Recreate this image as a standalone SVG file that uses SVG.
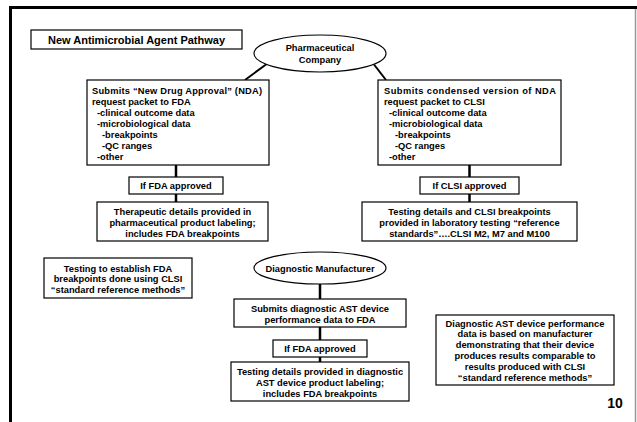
<svg xmlns="http://www.w3.org/2000/svg" width="637" height="422" viewBox="0 0 637 422">
<style>
.bx{fill:#fff;stroke:#000;stroke-width:1.2}
.t{font-family:"Liberation Sans",Arial,sans-serif;font-weight:bold;font-size:9.3px;fill:#000}
.c{text-anchor:middle}
.ln{stroke:#000;stroke-width:2.5;fill:none}
.dg{stroke:#000;stroke-width:2;fill:none}
</style>
<rect x="0" y="0" width="637" height="422" fill="#fff"/>
<g id="frame">
<line x1="9" y1="7.5" x2="637" y2="7.5" stroke="#000" stroke-width="3"/>
<line x1="10.5" y1="6" x2="10.5" y2="422" stroke="#000" stroke-width="3"/>
<line x1="635.5" y1="9" x2="635.5" y2="422" stroke="#999" stroke-width="1.5"/>
</g>
<g id="connectors">
<line class="dg" x1="266" y1="64.5" x2="245" y2="80"/>
<line class="dg" x1="374" y1="64.5" x2="386" y2="80"/>
<line class="ln" x1="176" y1="165" x2="176" y2="177"/>
<line class="ln" x1="176" y1="194" x2="176" y2="202"/>
<line class="ln" x1="469.5" y1="165" x2="469.5" y2="177"/>
<line class="ln" x1="469.5" y1="194" x2="469.5" y2="202"/>
<line class="ln" x1="320" y1="284" x2="320" y2="299"/>
<line class="ln" x1="320" y1="327" x2="320" y2="340"/>
<line class="ln" x1="320" y1="357" x2="320" y2="362"/>
</g>
<g id="title">
<rect class="bx" x="31" y="30" width="211" height="19"/>
<text class="t c" x="136.5" y="44" style="font-size:11px">New Antimicrobial Agent Pathway</text>
</g>
<g id="pharma">
<ellipse class="bx" cx="320" cy="53.5" rx="66" ry="18.5"/>
<text class="t c" x="320" y="51">Pharmaceutical</text>
<text class="t c" x="320" y="63">Company</text>
</g>
<g id="nda">
<rect class="bx" x="87" y="80" width="182" height="85"/>
<text class="t" x="92" y="93.5" textLength="170" lengthAdjust="spacing">Submits “New Drug Approval” (NDA)</text>
<text class="t" x="92" y="104.5">request packet  to FDA</text>
<text class="t" x="97" y="116">-clinical outcome data</text>
<text class="t" x="97" y="127">-microbiological data</text>
<text class="t" x="102" y="138">-breakpoints</text>
<text class="t" x="102" y="149">-QC ranges</text>
<text class="t" x="97" y="160">-other</text>
</g>
<g id="clsi">
<rect class="bx" x="378" y="80" width="183" height="85"/>
<text class="t" x="384" y="93.5" textLength="172" lengthAdjust="spacing">Submits condensed version of NDA</text>
<text class="t" x="384" y="104.5">request packet to CLSI</text>
<text class="t" x="389" y="116">-clinical outcome data</text>
<text class="t" x="389" y="127">-microbiological data</text>
<text class="t" x="395" y="138">-breakpoints</text>
<text class="t" x="395" y="149">-QC ranges</text>
<text class="t" x="389" y="160">-other</text>
</g>
<g id="fda1">
<rect class="bx" x="129" y="177" width="94" height="17"/>
<text class="t c" x="176" y="188.8">If FDA approved</text>
</g>
<g id="therapeutic">
<rect class="bx" x="97" y="202" width="171" height="39"/>
<text class="t c" x="182.5" y="215">Therapeutic details provided in</text>
<text class="t c" x="182.5" y="226">pharmaceutical product labeling;</text>
<text class="t c" x="182.5" y="237">includes FDA breakpoints</text>
</g>
<g id="clsiok">
<rect class="bx" x="420" y="177" width="99" height="17"/>
<text class="t c" x="469.5" y="188.8">If CLSI approved</text>
</g>
<g id="testing">
<rect class="bx" x="362" y="202" width="215" height="39"/>
<text class="t c" x="469.5" y="215">Testing details and CLSI breakpoints</text>
<text class="t c" x="469.5" y="226">provided in laboratory testing “reference</text>
<text class="t c" x="469.5" y="237">standards”….CLSI M2, M7 and M100</text>
</g>
<g id="establish">
<rect class="bx" x="44" y="258" width="148" height="40"/>
<text class="t c" x="118" y="271.5">Testing to establish FDA</text>
<text class="t c" x="118" y="282.3">breakpoints done using CLSI</text>
<text class="t c" x="118" y="293">“standard reference methods”</text>
</g>
<g id="diag">
<ellipse class="bx" cx="320" cy="268" rx="66" ry="16"/>
<text class="t c" x="320" y="271.5">Diagnostic Manufacturer</text>
</g>
<g id="submitdiag">
<rect class="bx" x="234" y="299" width="172" height="28"/>
<text class="t c" x="320" y="311.5">Submits diagnostic AST device</text>
<text class="t c" x="320" y="322.5">performance data to FDA</text>
</g>
<g id="fda2">
<rect class="bx" x="273" y="340" width="94" height="17"/>
<text class="t c" x="320" y="351.8">If FDA approved</text>
</g>
<g id="diaglabel">
<rect class="bx" x="231" y="362" width="178" height="39"/>
<text class="t c" x="320" y="374.5">Testing details provided in diagnostic</text>
<text class="t c" x="320" y="385.5">AST device product labeling;</text>
<text class="t c" x="320" y="396.5">includes FDA breakpoints</text>
</g>
<g id="note">
<rect class="bx" x="436" y="315" width="178" height="70"/>
<text class="t c" x="525" y="326.5">Diagnostic AST device performance</text>
<text class="t c" x="525" y="337.3">data is based on manufacturer</text>
<text class="t c" x="525" y="348.1">demonstrating that their device</text>
<text class="t c" x="525" y="358.9">produces results comparable to</text>
<text class="t c" x="525" y="369.7">results produced with CLSI</text>
<text class="t c" x="525" y="380.5">“standard reference methods”</text>
</g>
<g id="page">
<text class="t c" x="615" y="408" style="font-size:14px">10</text>
</g>
</svg>
